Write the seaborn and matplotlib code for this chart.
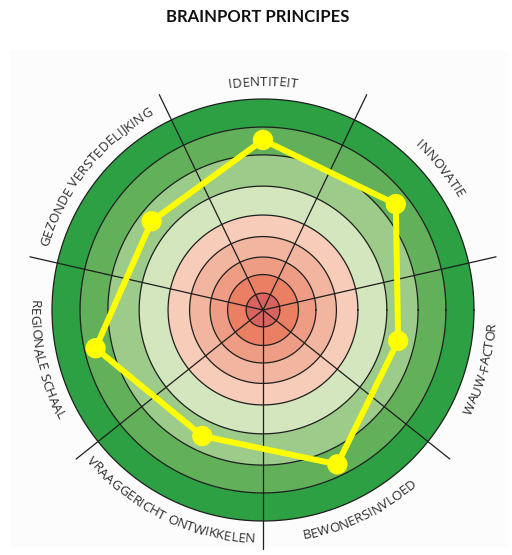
import numpy as np
import matplotlib
matplotlib.use("Agg")
import matplotlib.pyplot as plt
import seaborn as sns
import pandas as pd
from matplotlib.textpath import TextToPath
from matplotlib.font_manager import FontProperties
from matplotlib.patches import Rectangle

# ---------------- data ----------------
title = "BRAINPORT PRINCIPES"
categories = ["IDENTITEIT", "INNOVATIE", "WAUW-FACTOR", "BEWONERSINVLOED",
              "VRAAGGERICHT ONTWIKKELEN", "REGIONALE SCHAAL", "GEZONDE VERSTEDELIJKING"]
scores = [8.06, 8.05, 6.57, 8.12, 6.63, 8.14, 6.75]
ring_edges = [0.80, 1.68, 2.51, 3.48, 4.50, 5.87, 7.35, 8.67, 10.0]
ring_colors = ["#d9635e", "#ea7f64", "#ee9c84", "#f1b5a0", "#f7ccb8",
               "#d4e6bd", "#9ccb8a", "#62b05a", "#2ca043"]
label_top_style = [True, True, False, False, False, False, True]
label_shift_deg = [0, 0, -2.2, 0, 0, 0, 0]

# ---------------- layout ----------------
W, H, DPI = 512, 555, 100
CX, CY = 263, 310            # centre in pixels (from top-left)
AX_R_PX = 245                # axes radius in pixels
PX_PER_UNIT = 21.1           # pixels per score unit
RMAX = AX_R_PX / PX_PER_UNIT

sns.set_theme(style="white")
plt.rcParams['font.family'] = ['Open Sans', 'DejaVu Sans']

fig = plt.figure(figsize=(W / DPI, H / DPI), dpi=DPI)
fig.patch.set_facecolor("white")
fig.patches.append(Rectangle((10 / W, 8 / H), (W - 14) / W, (H - 58) / H,
                             transform=fig.transFigure, facecolor="#fcfcfc",
                             edgecolor="none", zorder=-5))

ax = fig.add_axes([(CX - AX_R_PX) / W, (H - CY - AX_R_PX) / H,
                   2 * AX_R_PX / W, 2 * AX_R_PX / H], projection="polar")
ax.set_zorder(2)
ax.set_facecolor("none")
ax.patch.set_alpha(0)
ax.set_ylim(0, RMAX)
ax.set_xticks([])
ax.set_yticks([])
ax.grid(False)
ax.spines["polar"].set_visible(False)

n = len(categories)
step = 2 * np.pi / n
cat_angles = [np.pi / 2 - i * step for i in range(n)]

# rings
prev = 0.0
for edge, col in zip(ring_edges, ring_colors):
    ax.bar(0, edge - prev, bottom=prev, width=2 * np.pi, color=col,
           linewidth=0, zorder=1)
    prev = edge
tgrid = np.linspace(0, 2 * np.pi, 400)
for edge in ring_edges:
    ax.plot(tgrid, np.full_like(tgrid, edge), color="#1e1e1e", lw=0.9, zorder=2)

# spokes
spoke_len = 239 / PX_PER_UNIT
for a in cat_angles:
    s = a + step / 2
    ax.plot([s, s], [0, spoke_len], color="#1e1e1e", lw=0.9, zorder=3)

# yellow polygon
df = pd.DataFrame({"theta": cat_angles + [cat_angles[0]],
                   "score": scores + [scores[0]]})
sns.lineplot(data=df, x="theta", y="score", sort=False, color="#ffff00",
             lw=4.3, ax=ax, zorder=4, estimator=None)
sns.scatterplot(data=df.iloc[:n], x="theta", y="score", color="#ffff00",
                s=215, edgecolor="none", linewidth=0, ax=ax, zorder=5)
ax.set_xlabel("")
ax.set_ylabel("")
ax.set_xticks([])
ax.set_yticks([])
ax.grid(False)
ax.set_ylim(0, RMAX)

# curved labels
fp = FontProperties(family="Open Sans", size=9.6)
t2p = TextToPath()
def width_px(s):
    if not s:
        return 0.0
    return t2p.get_text_width_height_descent(s, fp, ismath=False)[0] * DPI / 72

CAP_PX = 9.8
for name, ang, top, sh in zip(categories, cat_angles, label_top_style, label_shift_deg):
    ang = ang + np.radians(sh)
    total = width_px(name)
    if top:
        r_px = 229 - CAP_PX / 2
    else:
        r_px = 228 + CAP_PX / 2
    for i, ch in enumerate(name):
        if ch == " ":
            continue
        sc = (width_px(name[:i]) + width_px(name[:i + 1])) / 2 - total / 2
        off = sc / r_px
        if top:
            th = ang - off
            rot = np.degrees(th) - 90
        else:
            th = ang + off
            rot = np.degrees(th) + 90
        ax.text(th, r_px / PX_PER_UNIT, ch, fontproperties=fp, color="#2a2a2a",
                ha="center", va="baseline", rotation=rot,
                rotation_mode="anchor", zorder=6, clip_on=False)

fig.text(258 / W, 1 - 17 / H, title, ha="center", va="center",
         fontsize=12, fontweight="bold", color="#111111",
         family=["Lato", "DejaVu Sans"])

fig.savefig("out.png", dpi=DPI)
